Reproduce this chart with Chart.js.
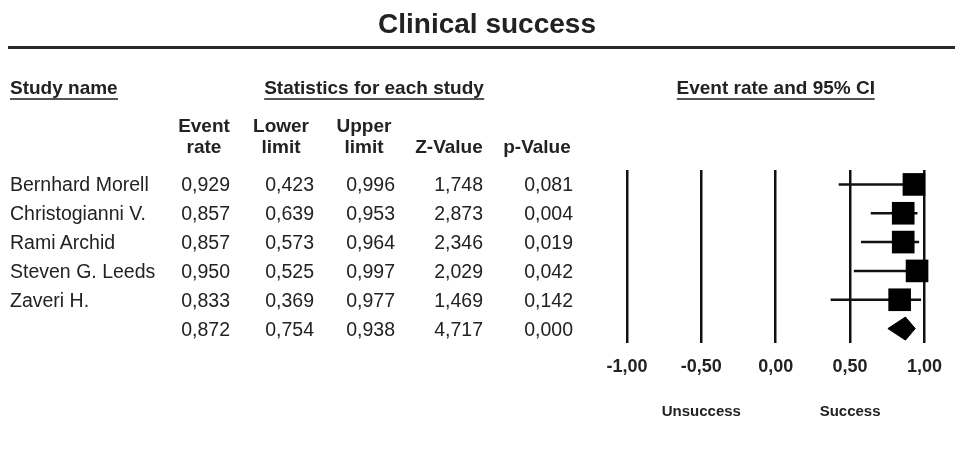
<!DOCTYPE html>
<html>
<head>
<meta charset="utf-8">
<script src="https://cdn.jsdelivr.net/npm/chart.js@4.4.1/dist/chart.umd.min.js"></script>
<style>
html,body{margin:0;padding:0;background:#fff;}
#wrap{position:relative;width:955px;height:451px;overflow:hidden;font-family:"Liberation Sans",Arial,Helvetica,sans-serif;color:#222;}
#c{position:absolute;left:0;top:0;}
.t{position:absolute;white-space:nowrap;}
.row{font-size:19.5px;line-height:24px;height:24px;}
.hd{font-size:19px;font-weight:bold;line-height:22px;}
.ul{border-bottom:2px solid #555;}
.ctr{transform:translateX(-50%);text-align:center;}
.rgt{transform:translateX(-100%);text-align:right;}
</style>
</head>
<body>
<div id="wrap">
<canvas id="c" width="955" height="451"></canvas>
</div>
<script>
// ---- data ----
const studies = ["Bernhard Morell", "Christogianni V.", "Rami Archid", "Steven G. Leeds", "Zaveri H."];
const eventRate  = [0.929, 0.857, 0.857, 0.950, 0.833];
const lowerLimit = [0.423, 0.639, 0.573, 0.525, 0.369];
const upperLimit = [0.996, 0.953, 0.964, 0.997, 0.977];
const zValue     = [1.748, 2.873, 2.346, 2.029, 1.469];
const pValue     = [0.081, 0.004, 0.019, 0.042, 0.142];
const summaryRate = 0.872, summaryLower = 0.754, summaryUpper = 0.938, summaryZ = 4.717, summaryP = 0.000;
const xTicks = [-1, -0.5, 0, 0.5, 1];
const columnHeaders = [["Event", "rate"], ["Lower", "limit"], ["Upper", "limit"], ["", "Z-Value"], ["", "p-Value"]];
const title = "Clinical success";
const leftLabel = "Unsuccess", rightLabel = "Success";

// ---- layout constants ----
const ROWS = studies.length + 1;
const DIAMOND_HALF = 0.4;
const fmt3 = v => v.toFixed(3).replace('.', ',');
const fmt2 = v => v.toFixed(2).replace('.', ',');

const datasets = [];
studies.forEach((s, i) => {
  datasets.push({
    type: 'line', label: s + ' CI',
    data: [{x: lowerLimit[i], y: i}, {x: upperLimit[i], y: i}],
    borderColor: '#111', borderWidth: 2.5, pointRadius: 0, fill: false, order: 3, clip: false
  });
});
datasets.push({
  type: 'scatter', label: 'Event rate',
  data: eventRate.map((v, i) => ({x: v, y: i})),
  pointStyle: 'rect', pointRadius: 16, pointHoverRadius: 16,
  backgroundColor: '#000', borderWidth: 0, order: 0, clip: false
});
const sy = studies.length;
const diamondIdx = datasets.length;
datasets.push({
  type: 'line', label: 'Summary top',
  data: [{x: summaryLower, y: sy}, {x: summaryRate, y: sy - DIAMOND_HALF}, {x: summaryUpper, y: sy}],
  borderColor: '#000', backgroundColor: '#000', borderWidth: 1, pointRadius: 0, tension: 0,
  fill: '+1', order: 1, clip: false
});
datasets.push({
  type: 'line', label: 'Summary bottom',
  data: [{x: summaryLower, y: sy}, {x: summaryRate, y: sy + DIAMOND_HALF}, {x: summaryUpper, y: sy}],
  borderColor: '#000', backgroundColor: '#000', borderWidth: 1, pointRadius: 0, tension: 0,
  fill: false, order: 1, clip: false
});

const chart = new Chart(document.getElementById('c'), {
  data: {datasets},
  options: {
    responsive: false, animation: false, events: [],
    layout: {padding: {left: 627, right: 29, top: 170, bottom: 73}},
    plugins: {legend: {display: false}, tooltip: {enabled: false}, title: {display: false}},
    scales: {
      x: {
        type: 'linear', position: 'bottom', min: -1, max: 1,
        afterBuildTicks: sc => { sc.ticks = xTicks.map(v => ({value: v})); },
        afterFit: sc => { sc.height = 35; },
        ticks: {
          callback: v => fmt2(v),
          font: {family: '"Liberation Sans", Arial, sans-serif', size: 18, weight: 'bold'},
          color: '#222', padding: 13, maxRotation: 0, autoSkip: false
        },
        grid: {color: '#111', lineWidth: 2.5, drawTicks: false},
        border: {display: false}
      },
      y: {
        type: 'linear', reverse: true, min: -0.5, max: ROWS - 0.5, display: false
      }
    }
  }
});

// ---- text (real HTML text) ----
const wrap = document.getElementById('wrap');
function addText(txt, cls, left, top, extraStyle) {
  const d = document.createElement('div');
  d.className = 't ' + cls;
  d.style.left = left + 'px';
  d.style.top = top + 'px';
  if (extraStyle) d.style.cssText += extraStyle;
  d.innerHTML = txt;
  wrap.appendChild(d);
  return d;
}
const xs = chart.scales.x, ys = chart.scales.y;

// title and rule
addText(title, 'ctr', 487, 8, 'font-size:28px;font-weight:bold;line-height:32px;');
const rule = document.createElement('div');
rule.style.cssText = 'position:absolute;left:8px;top:46px;width:947px;height:3px;background:#2a2a2a;';
wrap.appendChild(rule);

// section headers
addText('<span class="ul">Study name</span>', 'hd', 10, 77);
addText('<span class="ul">Statistics for each study</span>', 'hd ctr', 374, 77);
addText('<span class="ul">Event rate and 95% CI</span>', 'hd ctr', xs.getPixelForValue(0), 77);

// column headers
const headerX = [204, 281, 364, 449, 537];
columnHeaders.forEach((h, k) => {
  addText(h[0] + '<br>' + h[1], 'hd ctr', headerX[k], 115, 'line-height:21px;');
});

// rows
const colRight = [230, 314, 395, 483, 573];
for (let i = 0; i < ROWS; i++) {
  const yc = ys.getPixelForValue(i);
  const top = yc - 12;
  const isSum = i === studies.length;
  const name = isSum ? '' : studies[i];
  const vals = isSum ? [summaryRate, summaryLower, summaryUpper, summaryZ, summaryP]
                     : [eventRate[i], lowerLimit[i], upperLimit[i], zValue[i], pValue[i]];
  if (name) addText(name, 'row', 10, top);
  vals.forEach((v, k) => addText(fmt3(v), 'row rgt', colRight[k], top));
}

// favour labels under the axis
addText(leftLabel, 'ctr', xs.getPixelForValue(-0.5), 401, 'font-size:15px;font-weight:bold;line-height:20px;');
addText(rightLabel, 'ctr', xs.getPixelForValue(0.5), 401, 'font-size:15px;font-weight:bold;line-height:20px;');
</script>
</body>
</html>
